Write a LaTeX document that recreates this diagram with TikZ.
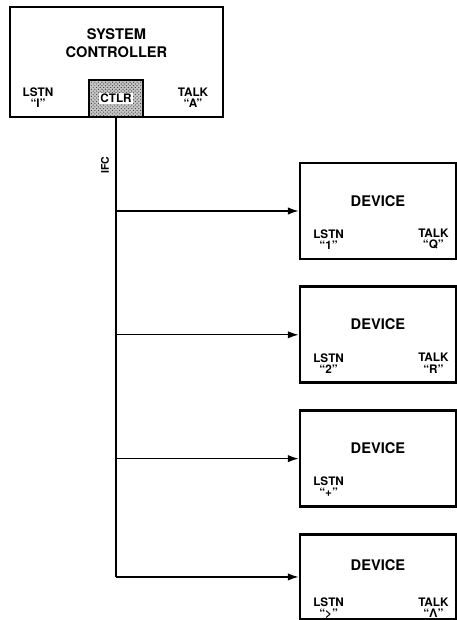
\documentclass[tikz,border=0pt]{standalone}
\usepackage{fontspec}
\setmainfont{TeX Gyre Heros}
\usetikzlibrary{arrows.meta, positioning, patterns}

\begin{document}
\begin{tikzpicture}[
  x=0.03cm, y=-0.03cm,
  sysbox/.style={rectangle, draw, line width=2.4pt, minimum width=6.39cm, minimum height=3.3cm, inner sep=0pt},
  devbox/.style={rectangle, draw, line width=2.4pt, minimum width=4.68cm, minimum height=2.88cm, inner sep=0pt},
  ctlrbox/.style={rectangle, draw, line width=1.8pt, preaction={fill=gray!45}, pattern=crosshatch dots,
              pattern color=black!80, minimum width=1.62cm, minimum height=1.11cm, inner sep=0pt},
  head/.style={font=\fontsize{12.5}{15}\selectfont\bfseries, align=center, inner sep=0pt},
  addr/.style={font=\fontsize{10}{9.5}\selectfont\bfseries, align=center, inner sep=0pt},
  arr/.style={-{Latex[length=3.2mm, width=2.2mm]}, line width=1.1pt},
  bus/.style={line width=1.1pt}
]
\useasboundingbox (0,0) rectangle (457,620);
\clip (0,0) rectangle (457,620);
\node[sysbox] (sys) at (116.5,62) {};
\node[head] (systitle) at (116.5,43) {SYSTEM\\CONTROLLER};
\node[addr] (syslstn) at (38,98) {LSTN\\``I''};
\node[addr] (systalk) at (193,98) {TALK\\``A''};
\node[ctlrbox] (ctlr) at (116,98.5) {};
\node[addr, fill=white, inner sep=1pt] (ctlrtxt) at (ctlr) {CTLR};
\node[devbox] (dev1) at (378,211) {};
\node[devbox, below=0.75cm of dev1] (dev2) {};
\node[devbox, below=0.75cm of dev2] (dev3) {};
\node[devbox, below=0.75cm of dev3, minimum height=2.55cm] (dev4) {};
\node[head, below=1cm of dev1.north] (dev1name) {DEVICE};
\node[addr] (dev1lstn) at ([shift={(30,-21)}]dev1.south west) {LSTN\\``1''};
\node[addr] (dev1talk) at ([shift={(-24,-21)}]dev1.south east) {TALK\\``Q''};
\node[head, below=1cm of dev2.north] (dev2name) {DEVICE};
\node[addr] (dev2lstn) at ([shift={(30,-21)}]dev2.south west) {LSTN\\``2''};
\node[addr] (dev2talk) at ([shift={(-24,-21)}]dev2.south east) {TALK\\``R''};
\node[head, below=1cm of dev3.north] (dev3name) {DEVICE};
\node[addr] (dev3lstn) at ([shift={(30,-21)}]dev3.south west) {LSTN\\``+''};
\node[head, below=0.8cm of dev4.north] (dev4name) {DEVICE};
\node[addr] (dev4lstn) at ([shift={(30,-13)}]dev4.south west) {LSTN\\``>''};
\node[addr] (dev4talk) at ([shift={(-24,-13)}]dev4.south east) {TALK\\``Λ''};
\coordinate (tap1) at (ctlr.south |- dev1.west);
\coordinate (tap2) at (ctlr.south |- dev2.west);
\coordinate (tap3) at (ctlr.south |- dev3.west);
\coordinate (tap4) at (ctlr.south |- dev4.west);
\draw[bus] (ctlr.south) -- (tap4);
\node[addr, rotate=90, font=\fontsize{9}{9}\selectfont\bfseries] (ifc) at (105,165) {IFC};
\draw[arr] (tap1) -- (dev1.west);
\draw[arr] (tap2) -- (dev2.west);
\draw[arr] (tap3) -- (dev3.west);
\draw[arr] (tap4) -- (dev4.west);
\end{tikzpicture}
\end{document}
